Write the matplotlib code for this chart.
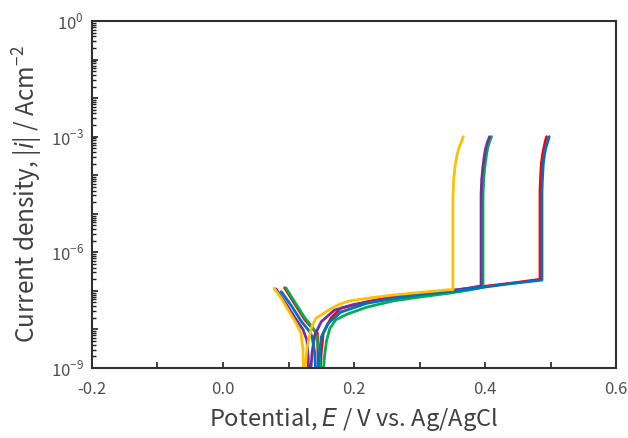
import matplotlib
matplotlib.use('Agg')
import matplotlib.pyplot as plt
import matplotlib.ticker as mticker
import numpy as np

plt.rcParams['font.family'] = ['Noto Sans CJK JP', 'DejaVu Sans']
plt.rcParams['mathtext.fontset'] = 'custom'
plt.rcParams['mathtext.rm'] = 'Noto Sans CJK JP'
plt.rcParams['mathtext.it'] = 'DejaVu Sans:italic'

# 読み取り値: 電位 E [V] と log10|i|
E_red = [0.094, 0.110, 0.125, 0.138, 0.144, 0.145, 0.146, 0.148, 0.150, 0.153, 0.165, 0.18, 0.22, 0.26, 0.30, 0.345, 0.40, 0.44, 0.484,
         0.484, 0.484, 0.485, 0.486, 0.488, 0.490, 0.492, 0.494]
L_red = [-6.92, -7.35, -7.75, -8.0, -8.09, -8.6, -9.3, -9.3, -8.6, -8.1, -7.7, -7.45, -7.28, -7.15, -7.07, -7.0, -6.88, -6.80, -6.70,
         -5.0, -4.4, -4.0, -3.7, -3.45, -3.28, -3.12, -3.0]

E_green = [0.096, 0.110, 0.125, 0.137, 0.142, 0.147, 0.149, 0.152, 0.155, 0.158, 0.163, 0.172, 0.19, 0.22, 0.26, 0.30, 0.345, 0.375, 0.397,
           0.397, 0.397, 0.398, 0.400, 0.402, 0.404, 0.407, 0.410]
L_green = [-6.92, -7.3, -7.7, -7.95, -8.10, -8.6, -9.3, -9.3, -8.7, -8.3, -7.98, -7.75, -7.6, -7.42, -7.26, -7.16, -7.06, -6.98, -6.91,
           -5.0, -4.5, -4.1, -3.75, -3.5, -3.3, -3.13, -3.0]

E_purple = [0.081, 0.095, 0.110, 0.122, 0.128, 0.130, 0.131, 0.133, 0.136, 0.140, 0.150, 0.170, 0.20, 0.22, 0.26, 0.30, 0.345, 0.375, 0.394,
            0.394, 0.394, 0.395, 0.397, 0.399, 0.401, 0.404, 0.407]
L_purple = [-6.95, -7.3, -7.7, -8.0, -8.27, -8.7, -9.3, -9.3, -8.6, -8.15, -7.8, -7.5, -7.35, -7.3, -7.18, -7.09, -7.0, -6.93, -6.87,
            -5.0, -4.5, -4.1, -3.75, -3.5, -3.3, -3.13, -3.0]

E_blue = [0.089, 0.105, 0.120, 0.132, 0.136, 0.140, 0.142, 0.144, 0.147, 0.150, 0.160, 0.18, 0.22, 0.26, 0.30, 0.345, 0.40, 0.44, 0.487,
          0.487, 0.487, 0.488, 0.489, 0.491, 0.493, 0.496, 0.498]
L_blue = [-7.02, -7.4, -7.8, -8.05, -8.19, -8.6, -9.3, -9.3, -8.7, -8.2, -7.85, -7.55, -7.32, -7.2, -7.1, -7.02, -6.90, -6.81, -6.72,
          -5.0, -4.4, -4.0, -3.7, -3.45, -3.28, -3.12, -3.0]

E_yellow = [0.078, 0.090, 0.101, 0.112, 0.119, 0.122, 0.123, 0.124, 0.126, 0.128, 0.135, 0.142, 0.162, 0.177, 0.193, 0.225, 0.258, 0.30, 0.345, 0.351,
            0.351, 0.351, 0.352, 0.354, 0.357, 0.360, 0.364, 0.367]
L_yellow = [-6.93, -7.22, -7.54, -7.85, -8.10, -8.5, -9.3, -9.3, -8.9, -8.5, -7.95, -7.71, -7.49, -7.35, -7.26, -7.18, -7.11, -7.04, -6.97, -6.97,
            -5.2, -4.6, -4.15, -3.8, -3.5, -3.3, -3.13, -3.0]

curves = [
    (E_red, L_red, '#FF0000'),
    (E_green, L_green, '#00B050'),
    (E_purple, L_purple, '#7030A0'),
    (E_blue, L_blue, '#0070C0'),
    (E_yellow, L_yellow, '#FFC000'),
]

fig = plt.figure(figsize=(6.28, 4.38), dpi=100)
ax = fig.add_axes([92/628, 1-368/438, 524/628, 347/438])

for E, L, c in curves:
    ax.plot(E, 10**np.array(L), color=c, lw=2.0, solid_joinstyle='round', solid_capstyle='round')

ax.set_yscale('log')
ax.set_xlim(-0.2, 0.6)
ax.set_ylim(1e-9, 1e0)

ax.xaxis.set_major_locator(mticker.MultipleLocator(0.2))
ax.xaxis.set_minor_locator(mticker.MultipleLocator(0.1))
ax.xaxis.set_major_formatter(mticker.FormatStrFormatter('%.1f'))

ax.yaxis.set_major_locator(mticker.LogLocator(base=10, numticks=20))
ax.yaxis.set_minor_locator(mticker.LogLocator(base=10, subs=np.arange(2, 10), numticks=20))


def ylab(v, pos):
    e = int(round(np.log10(v)))
    if e % 3 == 0:
        return r'$10^{%d}$' % e
    return ''


ax.yaxis.set_major_formatter(mticker.FuncFormatter(ylab))
ax.yaxis.set_minor_formatter(mticker.NullFormatter())

ax.tick_params(axis='both', which='both', direction='in', top=False, right=False,
               colors='#202020', labelcolor='#505050', labelsize=12)
ax.tick_params(axis='both', which='major', length=4, width=1.2)
ax.tick_params(axis='both', which='minor', length=3, width=1.0)
ax.tick_params(axis='x', which='both', length=4, width=1.2, pad=9)
ax.tick_params(axis='y', which='both', pad=6)

for s in ax.spines.values():
    s.set_linewidth(1.5)
    s.set_color('#303030')

ax.set_xlabel(r'Potential, $\it{E}$ / V vs. Ag/AgCl', fontsize=17, color='#404040', labelpad=6)
ax.set_ylabel(r'Current density, |$\it{i}$| / Acm$^{-2}$', fontsize=17.5, color='#404040', labelpad=4)

fig.savefig('out.png', dpi=100)
